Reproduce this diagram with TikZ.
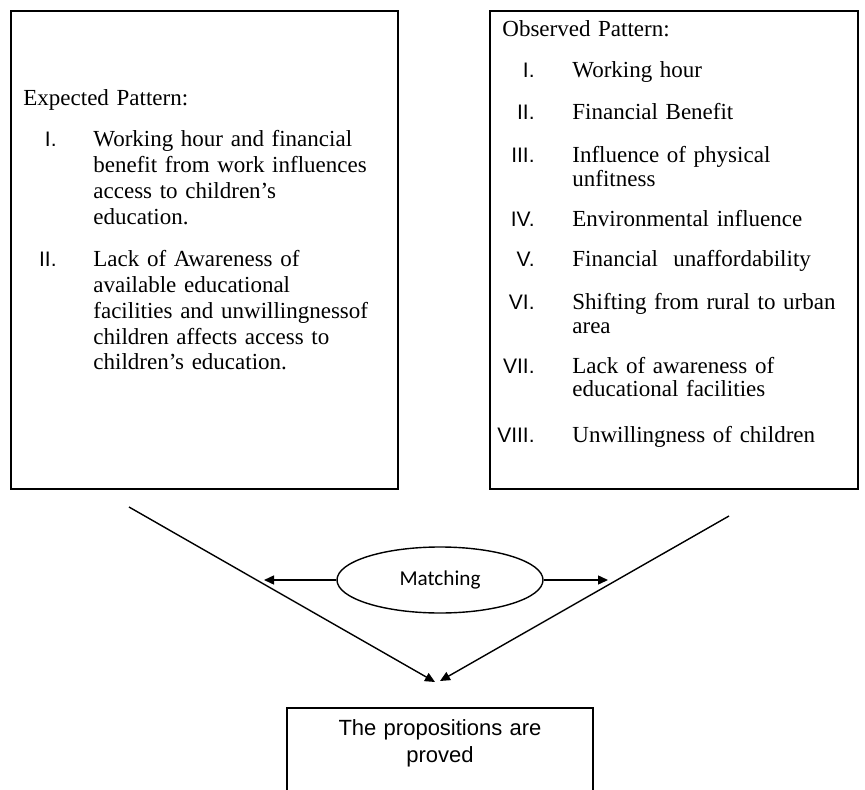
\documentclass[tikz,border=0pt]{standalone}
\usepackage{fontspec}
\setmainfont{Liberation Serif}
\newfontfamily\numfont{Liberation Sans}
\newfontfamily\calfont{Carlito}
\usetikzlibrary{shapes.geometric,arrows.meta}
\begin{document}
\begin{tikzpicture}[x=0.5pt,y=-0.5pt,
  frame/.style={draw,line width=1pt,inner sep=0pt},
  txt/.style={anchor=base west,inner sep=0pt,text width=150pt,align=left,font=\fontsize{11.5}{12.85}\selectfont},
  txtr/.style={anchor=base west,inner sep=0pt,text width=150pt,align=left,font=\fontsize{11.5}{11.75}\selectfont},
  num/.style={anchor=base east,inner sep=0pt,font=\numfont\fontsize{10.5}{12}\selectfont},
  conn/.style={line width=0.7pt},
  arr/.style={conn,-{Triangle[length=5pt,width=4.5pt]}}]
\path[use as bounding box,clip] (0,0) rectangle (865,790);

% boxes
\node (lbox) [frame,anchor=north west,minimum width=193.5pt,minimum height=239pt] at (10,10) {};
\node (rbox) [frame,anchor=north west,minimum width=184pt,minimum height=239pt] at (489,10) {};
\node (pbox) [frame,anchor=north,minimum width=153pt,minimum height=52pt] at (440,707) {};
\node (ptext) [anchor=base,inner sep=0pt,text width=150pt,align=center,font=\numfont\fontsize{11}{13.5}\selectfont] at (440,735) {The propositions are\\proved};

% left box text
\node (ehead) [txt] at (23,106) {Expected Pattern:};
\node (en1) [num] at (57,147) {I.};
\node (et1) [txt] at (93,147) {Working hour and financial\\benefit from work influences\\access to children’s\\education.};
\node (en2) [num] at (57,267) {II.};
\node (et2) [txt] at (93,267) {Lack of Awareness of\\available educational\\facilities and unwillingnessof\\children affects access to\\children’s education.};

% right box text
\node (ohead) [txtr] at (502,37) {Observed Pattern:};
\node (on1) [num] at (535,78) {I.};
\node (ot1) [txtr] at (572,78) {Working hour};
\node (on2) [num] at (535,120) {II.};
\node (ot2) [txtr] at (572,120) {Financial Benefit};
\node (on3) [num] at (535,163) {III.};
\node (ot3) [txtr] at (572,163) {Influence of physical\\unfitness};
\node (on4) [num] at (535,227) {IV.};
\node (ot4) [txtr] at (572,227) {Environmental influence};
\node (on5) [num] at (535,267) {V.};
\node (ot5) [txtr] at (572,267) {Financial\ \ unaffordability};
\node (on6) [num] at (535,310) {VI.};
\node (ot6) [txtr] at (572,310) {Shifting from rural to urban\\area};
\node (on7) [num] at (535,373) {VII.};
\node (ot7) [txtr] at (572,373) {Lack of awareness of\\educational facilities};
\node (on8) [num] at (535,442) {VIII.};
\node (ot8) [txtr] at (572,442) {Unwillingness of children};

% matching ellipse
\node (match) [ellipse,draw,line width=0.7pt,minimum width=103pt,minimum height=33pt,inner sep=0pt,font=\calfont\fontsize{10.6}{12}\selectfont] at (440,580) {Matching};

% connectors
\coordinate (lstart) at (129,507);
\coordinate (ltip) at (435,682);
\coordinate (rstart) at (729,516);
\coordinate (rtip) at (440,681);
\coordinate (mleft) at (264,580);
\coordinate (mright) at (608,580);
\draw[arr] (lstart) -- (ltip);
\draw[arr] (rstart) -- (rtip);
\draw[arr] (match.west) -- (mleft);
\draw[arr] (match.east) -- (mright);
\end{tikzpicture}
\end{document}
